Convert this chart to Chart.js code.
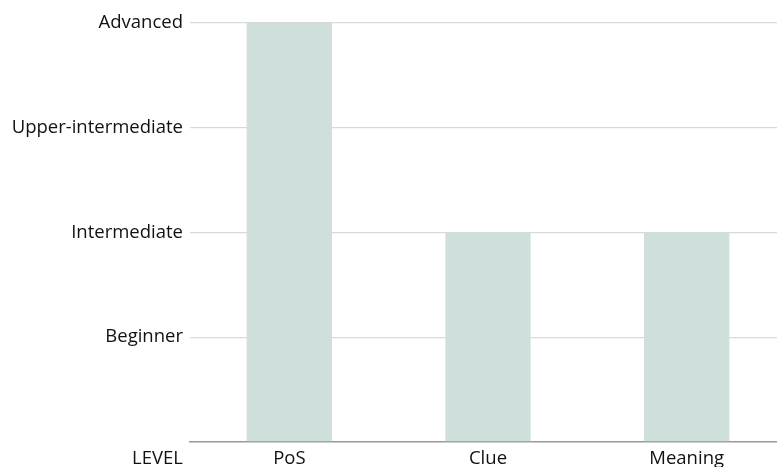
<!DOCTYPE html>
<html>
<head>
<meta charset="utf-8">
<script src="https://cdn.jsdelivr.net/npm/chart.js@4/dist/chart.umd.min.js"></script>
<style>
  html, body { margin: 0; padding: 0; background: #fff; overflow: hidden; }
  #wrap { width: 800px; height: 476px; }
</style>
</head>
<body>
<div id="wrap"><canvas id="c" width="800" height="476"></canvas></div>
<script>
// Task categories and the proficiency level each one reaches
const categories = ['PoS', 'Clue', 'Meaning'];
const levels = [4, 2, 2];
// Level names shown on the vertical axis (index = value)
const levelLabels = ['', 'Beginner', 'Intermediate', 'Upper-intermediate', 'Advanced'];
const axisTitle = 'LEVEL';

const FONT = '"Open Sans", "Noto Sans", sans-serif';
const SIZE = 18.5;

// Writes the axis title to the left of the category labels
const cornerTitle = {
  id: 'cornerTitle',
  afterDraw(chart) {
    const { ctx, scales } = chart;
    const x = scales.y.right - 7;
    const y = scales.x.top + 17;
    ctx.save();
    ctx.font = SIZE + 'px ' + FONT;
    ctx.fillStyle = '#111';
    ctx.textAlign = 'right';
    ctx.textBaseline = 'middle';
    ctx.fillText(axisTitle, x, y);
    ctx.restore();
  }
};

new Chart(document.getElementById('c'), {
  type: 'bar',
  data: {
    labels: categories,
    datasets: [{
      data: levels,
      backgroundColor: '#cfe0dc',
      borderWidth: 0,
      barPercentage: 0.43,
      categoryPercentage: 1
    }]
  },
  options: {
    responsive: false,
    animation: false,
    layout: { padding: { top: 23, right: 14, left: 0, bottom: 0 } },
    plugins: { legend: { display: false }, tooltip: { enabled: false } },
    scales: {
      x: {
        grid: { display: false, drawTicks: false },
        border: { display: true, color: '#999', width: 1.5 },
        ticks: { color: '#111', font: { family: FONT, size: SIZE }, padding: 6 }
      },
      y: {
        min: 0,
        max: 4,
        afterFit(scale) { scale.width = 190; },
        grid: {
          color: ctx => ctx.tick && ctx.tick.value === 0 ? 'rgba(0,0,0,0)' : '#d9d9d9',
          lineWidth: 1.2,
          drawTicks: false
        },
        border: { display: false },
        ticks: {
          stepSize: 1,
          color: '#111',
          padding: 7,
          font: { family: FONT, size: SIZE },
          callback: v => levelLabels[v]
        }
      }
    }
  },
  plugins: [cornerTitle]
});
</script>
</body>
</html>
